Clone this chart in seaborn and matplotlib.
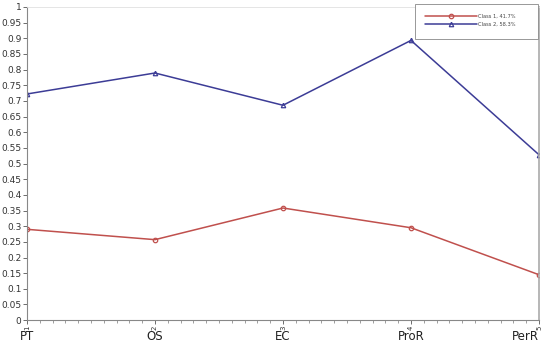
import matplotlib
matplotlib.use("Agg")
import matplotlib.pyplot as plt
from matplotlib.patches import Rectangle
import seaborn as sns
import pandas as pd
import numpy as np

categories = ["PT", "OS", "EC", "ProR", "PerR"]
positions = [1, 2, 3, 4, 5]
class1 = [0.29, 0.257, 0.358, 0.295, 0.145]
class2 = [0.722, 0.789, 0.686, 0.893, 0.528]
series_names = ["Class 1, 41.7%", "Class 2, 58.3%"]

df = pd.DataFrame({
    "x": positions * 2,
    "value": class1 + class2,
    "series": [series_names[0]] * 5 + [series_names[1]] * 5,
})

sns.set_style("white")
fig = plt.figure(figsize=(5.5, 3.45), dpi=100)
ax = fig.add_axes([0.049, 0.072, 0.931, 0.908])

palette = {series_names[0]: "#c0504d", series_names[1]: "#3c3c96"}
markers = {series_names[0]: "o", series_names[1]: "^"}
sns.lineplot(data=df, x="x", y="value", hue="series", style="series",
             palette=palette, markers=markers, dashes=False, ax=ax,
             linewidth=1.1, markersize=3.2, markerfacecolor="none",
             markeredgewidth=0.9)
for line in ax.get_lines():
    line.set_markerfacecolor("none")
    line.set_markeredgecolor(line.get_color())

ax.set_xlim(1, 5)
ax.set_ylim(0, 1)
yt = np.arange(0, 1.0001, 0.05)
ax.set_yticks(yt)
ax.set_yticklabels([f"{v:.2f}".rstrip("0").rstrip(".") for v in yt],
                   fontsize=6.5, color="#333333")
ax.set_xticks(positions)
ax.set_xticklabels([str(p) for p in positions], rotation=90, fontsize=5, color="#333333")
ax.set_xticks(np.arange(1, 5.0001, 0.1), minor=True)
ax.tick_params(axis="both", which="major", length=3, width=0.6, colors="#555555",
               labelcolor="#333333", pad=1, direction="out", bottom=True, left=True)
ax.tick_params(axis="x", which="minor", length=2, width=0.5, colors="#777777", bottom=True)
ax.set_xlabel("")
ax.set_ylabel("")

for i, c in enumerate(categories):
    ha = "right" if i == len(categories) - 1 else "center"
    ax.text(positions[i], -0.032, c, ha=ha, va="top", fontsize=8.5,
            transform=ax.get_xaxis_transform(), color="#222222")

for s in ["left", "bottom"]:
    ax.spines[s].set_color("#888888")
    ax.spines[s].set_linewidth(0.8)
ax.spines["right"].set_color("#aaaaaa")
ax.spines["right"].set_linewidth(1.2)
ax.spines["top"].set_color("#e0e0e0")
ax.spines["top"].set_linewidth(0.6)

# legend box drawn separately (entries sit at its top)
box = Rectangle((415 / 550, (345 - 39) / 345), 123 / 550, 35 / 345,
                transform=fig.transFigure, facecolor="white",
                edgecolor="#888888", linewidth=0.6, zorder=4.5, clip_on=False)
ax.add_patch(box)
leg = ax.legend(loc="upper left", bbox_to_anchor=(425 / 550, (345 - 14) / 345),
                bbox_transform=fig.transFigure, fontsize=3.7, frameon=False,
                handlelength=10.2, borderpad=0, borderaxespad=0,
                labelspacing=0.55, handletextpad=0.1)
leg.set_zorder(6)
for t in leg.get_texts():
    t.set_color("#444444")

fig.savefig("out.png", dpi=100)
